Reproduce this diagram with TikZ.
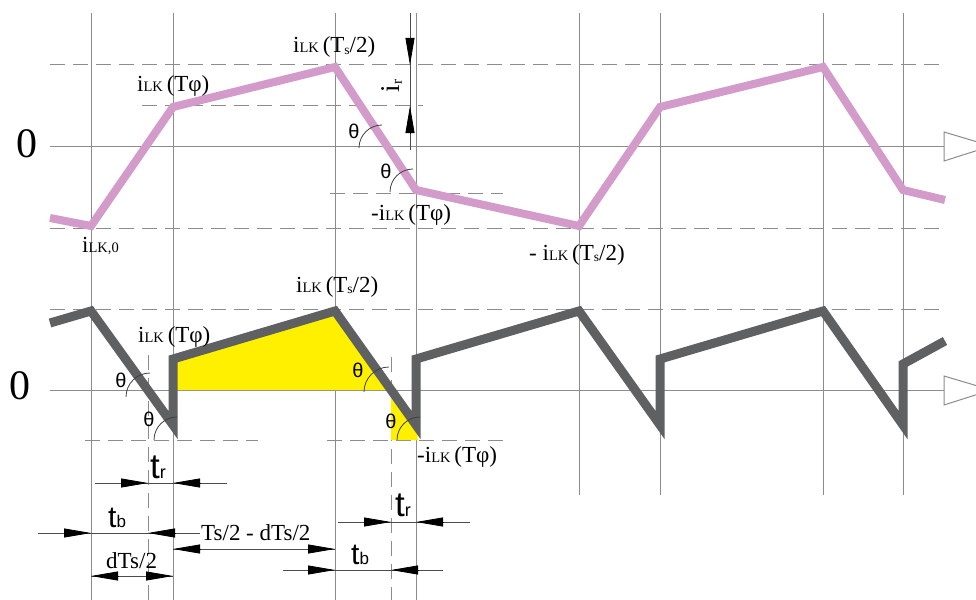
\documentclass[tikz,border=0pt]{standalone}
\usepackage{fontspec}
\setmainfont{Liberation Serif}
\newfontfamily\sansf{Liberation Sans}
\usetikzlibrary{arrows.meta}
\definecolor{pinkw}{RGB}{211,155,201}
\definecolor{grayw}{RGB}{95,96,98}
\definecolor{gridc}{RGB}{140,140,140}
\definecolor{yel}{RGB}{255,240,0}
\newcommand\lkx{{\fontsize{14.5}{14.5}\selectfont LK}}
\newcommand\ssub[1]{\raisebox{-1.5pt}{\fontsize{13.5}{13.5}\selectfont #1}}
\newcommand\iLK{i\lkx}
\newcommand\tlab[3]{{\sansf\fontsize{#1}{#1}\selectfont t\fontsize{#2}{#2}\selectfont #3}}
\begin{document}
\begin{tikzpicture}[x=1pt,y=-1pt,
  gridl/.style={draw=gridc, line width=1pt},
  gdash/.style={draw=gridc, line width=1pt, dash pattern=on 15pt off 8pt},
  dimline/.style={draw=black!70, line width=0.8pt},
  dimtip/.style={-{Triangle[length=27pt,width=9pt]}, line width=0.8pt, draw=black, fill=black},
  lbl/.style={inner sep=0pt, anchor=base west, font=\fontsize{23}{23}\selectfont},
  thl/.style={inner sep=0pt, font=\sansf\fontsize{20}{20}\selectfont},
  tl/.style={inner sep=0pt, anchor=base west},
  arcl/.style={draw=black!75, line width=0.8pt},
  zl/.style={inner sep=0pt, font=\fontsize{42}{42}\selectfont}]
\useasboundingbox (0,0) rectangle (976,599);
\fill[white] (0,0) rectangle (976,599);
% vertical grid lines
\foreach \x in {91,173,335,416} \draw[gridl] (\x,13) -- (\x,600);
\foreach \x in {579,660,823,903} \draw[gridl] (\x,13) -- (\x,495);
\draw[gdash] (148,355) -- (148,600);
\draw[gdash] (391,357) -- (391,600);
% zero axes
\draw[gridl] (50,146) -- (944,146);
\draw[gridl] (50,390) -- (944,390);
\draw[gridl, fill=white] (944,132) -- (944,161) -- (991,146) -- cycle;
\draw[gridl, fill=white] (944,376) -- (944,405) -- (991,390) -- cycle;
% dashed horizontals top
\draw[gdash] (50,65) -- (945,65);
\draw[gdash] (50,228) -- (945,228);
\draw[gdash] (142,106) -- (423,106);
\draw[gdash] (330,193) -- (503,193);
% dashed horizontals bottom
\draw[gdash] (50,309) -- (945,309);
\draw[gdash] (85,440) -- (258,440);
\draw[gdash] (327,440) -- (503,440);
% yellow areas
\fill[yel] (173,390) -- (173,359) -- (335,311) -- (390.4,390) -- cycle;
\fill[yel] (391,390) -- (391,440) -- (418,440) -- (416,425) -- cycle;
% waveforms
\draw[pinkw, line width=8pt, line join=miter]
  (50,218) -- (91,226) -- (173,107) -- (335,67) -- (416,190) -- (579,226)
  -- (660,107) -- (823,67) -- (903,190) -- (945,200);
\draw[grayw, line width=9pt, line join=miter]
  (50,323) -- (91,311) -- (173,425) -- (173,359) -- (335,311) -- (416,425)
  -- (416,359) -- (579,311) -- (660,425) -- (660,359) -- (823,311)
  -- (903,425) -- (903,364) -- (945,341);
% theta arcs
\draw[arcl] (359,148) arc[start angle=180, end angle=90, radius=23pt];
\draw[arcl] (390,192) arc[start angle=180, end angle=90, radius=23pt];
\draw[arcl] (126,397) arc[start angle=180, end angle=90, radius=24pt];
\draw[arcl] (154,440) arc[start angle=180, end angle=90, radius=23pt];
\draw[arcl] (364,392) arc[start angle=180, end angle=90, radius=25pt];
\draw[arcl] (397,440) arc[start angle=180, end angle=90, radius=23pt];
\node[thl] (th1) at (354,131) {θ};
\node[thl] (th2) at (386,171) {θ};
\node[thl] (th3) at (121,380) {θ};
\node[thl] (th4) at (149,419) {θ};
\node[thl] (th5) at (358,370) {θ};
\node[thl] (th6) at (391,421) {θ};
% i_r dimension
\draw[dimline] (410,13) -- (410,150);
\draw[dimtip] (410,38) -- (410,65);
\draw[dimtip] (410,133) -- (410,106);
\node[inner sep=0pt, rotate=90, font=\fontsize{27}{27}\selectfont] (ir) at (392,86) {i{\fontsize{15}{15}\selectfont\raisebox{-2pt}{r}}};
% zero labels
\node[zl] (z1) at (27,144) {0};
\node[zl] (z2) at (20,386) {0};
% top labels
\node[lbl] (a1) at (293,53) {\iLK\,(T\ssub{s}/2)};
\node[lbl] (a2) at (137,92) {\iLK\,(Tφ)};
\node[lbl] (a3) at (82,252) {i{\fontsize{14.5}{14.5}\selectfont LK,0}};
\node[lbl] (a4) at (371,220) {-\iLK\,(Tφ)};
\node[lbl] (a5) at (529,260) {- \iLK\,(T\ssub{s}/2)};
% bottom labels
\node[lbl] (b1) at (296,292) {\iLK\,(T\ssub{s}/2)};
\node[lbl] (b2) at (138,342) {\iLK\,(Tφ)};
\node[lbl] (b3) at (417,462) {-\iLK\,(Tφ)};
% dimensions bottom
\draw[dimline] (95,483) -- (227,483);
\draw[dimtip] (121,483) -- (148,483);
\draw[dimtip] (200,483) -- (173,483);
\node[tl] (tr1) at (150,478) {\tlab{35}{18}{r}};
\draw[dimline] (38,533) -- (200,533);
\draw[dimtip] (64,533) -- (91,533);
\draw[dimtip] (175,533) -- (148,533);
\node[tl] (tb1) at (108,527) {\tlab{30}{17}{b}};
\draw[dimline] (173,549) -- (335,549);
\draw[dimtip] (200,549) -- (173,549);
\draw[dimtip] (308,549) -- (335,549);
\node[lbl] (ts) at (201,540) {Ts/2 - dTs/2};
\draw[dimline] (91,576) -- (173,576);
\draw[dimtip] (118,576) -- (91,576);
\draw[dimtip] (146,576) -- (173,576);
\node[lbl] (dts) at (106,568) {dTs/2};
\draw[dimline] (338,522) -- (470,522);
\draw[dimtip] (364,522) -- (391,522);
\draw[dimtip] (443,522) -- (416,522);
\node[tl] (tr2) at (395,516) {\tlab{35}{18}{r}};
\draw[dimline] (283,570) -- (443,570);
\draw[dimtip] (308,570) -- (335,570);
\draw[dimtip] (418,570) -- (391,570);
\node[tl] (tb2) at (351,564) {\tlab{30}{17}{b}};
\end{tikzpicture}
\end{document}
